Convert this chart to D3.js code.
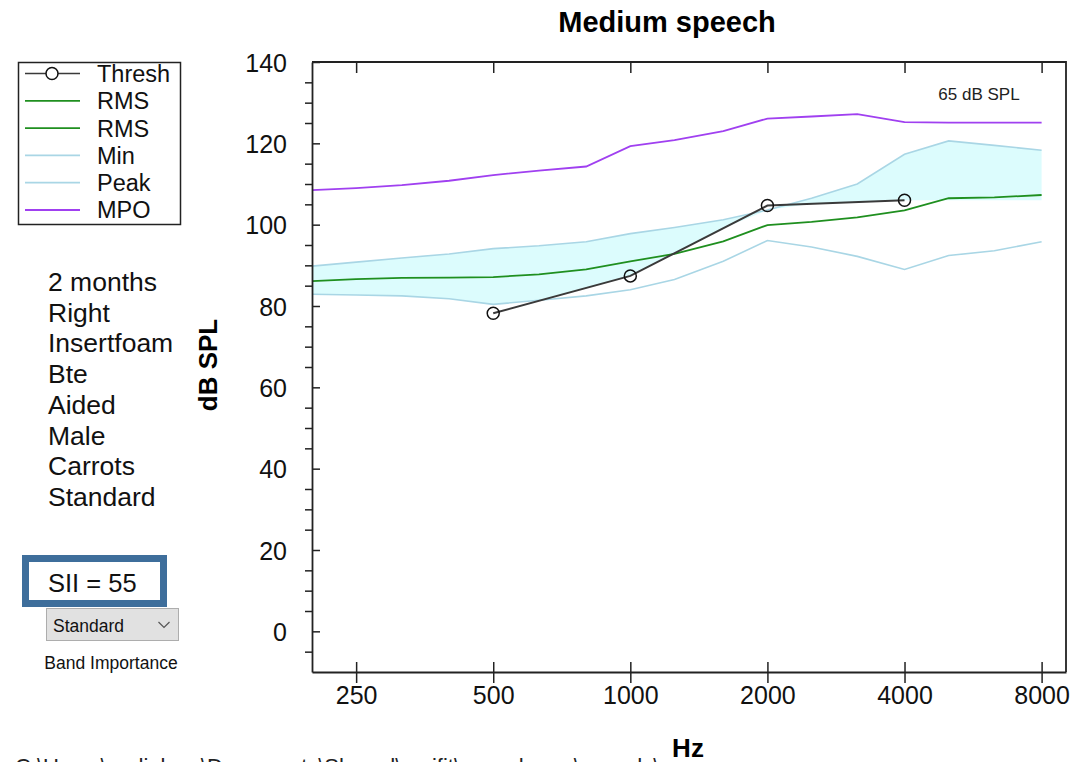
<!DOCTYPE html>
<html>
<head>
<meta charset="utf-8">
<script src="https://cdn.jsdelivr.net/npm/d3@7"></script>
<style>
  body { margin: 0; background: #fff; }
  svg { display: block; font-family: "Liberation Sans", Arial, sans-serif; }
</style>
</head>
<body>
<svg width="1076" height="762"></svg>
<script>
// speech spectrum, 1/3 octave bands (dB SPL)
const freqs = [200, 250, 315, 400, 500, 630, 800, 1000, 1250, 1600, 2000, 2500, 3150, 4000, 5000, 6300, 8000];
const mpo   = [108.5, 109.0, 109.7, 110.8, 112.2, 113.3, 114.3, 119.3, 120.8, 123.0, 126.1, 126.6, 127.2, 125.2, 125.1, 125.1, 125.1];
const peak  = [89.8, 90.8, 91.8, 92.8, 94.1, 94.8, 95.8, 97.8, 99.3, 101.2, 103.6, 106.5, 110.0, 117.3, 120.6, 119.5, 118.3];
const rms   = [86.1, 86.6, 86.9, 87.0, 87.1, 87.8, 89.0, 91.0, 92.8, 95.9, 99.9, 100.7, 101.8, 103.5, 106.5, 106.7, 107.3];
const minV  = [82.9, 82.7, 82.5, 81.8, 80.4, 81.4, 82.5, 84.0, 86.5, 91.0, 96.1, 94.5, 92.2, 89.0, 92.4, 93.6, 95.8];

// threshold (aided), dB SPL
const threshFreqs = [500, 1000, 2000, 4000];
const thresh = [78.2, 87.4, 104.7, 106.0];

const xTicks = [250, 500, 1000, 2000, 4000, 8000];
const yTicks = [0, 20, 40, 60, 80, 100, 120, 140];
const yMinor = [-5, 5, 10, 15, 25, 30, 35, 45, 50, 55, 65, 70, 75, 85, 90, 95, 105, 110, 115, 125, 130, 135];

const legendLabels = ["Thresh", "RMS", "RMS", "Min", "Peak", "MPO"];
const infoLines = ["2 months", "Right", "Insertfoam", "Bte", "Aided", "Male", "Carrots", "Standard"];
const siiValue = 55;
const bandImportance = "Standard";

const colors = {
  Thresh: "#3a3a3a", RMS: "#1f8f1f", Min: "#a9d6e5", Peak: "#a9d6e5", MPO: "#a040f0"
};

const svg = d3.select("svg");
const plotLeft = 312, plotRight = 1066, plotTop = 62, plotBottom = 672;

let xScale = d3.scaleLog().domain([200, 9050]).range([plotLeft, plotRight]);
let yScale = d3.scaleLinear().domain([-10, 140]).range([plotBottom, plotTop]);

// title
svg.append("text")
  .attr("x", 667).attr("y", 32)
  .attr("text-anchor", "middle")
  .style("font-size", "29px").style("font-weight", "bold")
  .text("Medium speech");

// threshold interpolated on log frequency, held flat outside measured range
function threshAt(f) {
  const n = threshFreqs.length;
  if (f <= threshFreqs[0]) return thresh[0];
  if (f >= threshFreqs[n - 1]) return thresh[n - 1];
  const i = d3.bisectRight(threshFreqs, f) - 1;
  const t = Math.log(f / threshFreqs[i]) / Math.log(threshFreqs[i + 1] / threshFreqs[i]);
  return thresh[i] + t * (thresh[i + 1] - thresh[i]);
}

const speech = freqs.map((f, i) => ({f: f, peak: peak[i], min: minV[i], rms: rms[i], mpo: mpo[i]}));

// audible part of speech: between peak and max(min, thresh)
const area = d3.area()
  .x(d => xScale(d.f))
  .y0(d => yScale(Math.min(d.peak, Math.max(d.min, threshAt(d.f)))))
  .y1(d => yScale(d.peak));

svg.append("path")
  .datum(speech)
  .attr("d", area)
  .attr("fill", "#dcfcfd");

function drawLine(key, color, width) {
  svg.append("path")
    .datum(speech)
    .attr("d", d3.line().x(d => xScale(d.f)).y(d => yScale(d[key])))
    .attr("fill", "none")
    .attr("stroke", color)
    .attr("stroke-width", width);
}
drawLine("min", colors.Min, 1.6);
drawLine("peak", colors.Peak, 1.6);
drawLine("rms", colors.RMS, 1.8);
drawLine("mpo", colors.MPO, 1.8);

// threshold line + markers
const threshData = threshFreqs.map((f, i) => ({f: f, v: thresh[i]}));
svg.append("path")
  .datum(threshData)
  .attr("d", d3.line().x(d => xScale(d.f)).y(d => yScale(d.v)))
  .attr("fill", "none")
  .attr("stroke", colors.Thresh)
  .attr("stroke-width", 2);
svg.selectAll("circle.thresh")
  .data(threshData)
  .join("circle")
  .attr("class", "thresh")
  .attr("cx", d => xScale(d.f))
  .attr("cy", d => yScale(d.v))
  .attr("r", 6)
  .attr("fill", "none")
  .attr("stroke", "#111")
  .attr("stroke-width", 1.5);

// frame (top + right)
svg.append("path")
  .attr("d", `M${plotLeft},${plotTop}H${plotRight}V${plotBottom}`)
  .attr("fill", "none")
  .attr("stroke", "#222")
  .attr("stroke-width", 1.8);

// bottom axis
let xAxis = d3.axisBottom(xScale).tickValues(xTicks).tickFormat(d3.format("d"))
  .tickSizeInner(11).tickSizeOuter(0);
let xAxisG = svg.append("g").attr("transform", `translate(0,${plotBottom})`).call(xAxis);
xAxisG.select(".domain").attr("stroke", "#222").attr("stroke-width", 1.8);
xAxisG.selectAll(".tick line").attr("y1", -10).attr("stroke", "#222").attr("stroke-width", 1.5);
xAxisG.selectAll(".tick text")
  .attr("y", 23).attr("dy", "0.36em")
  .style("font-size", "25px").style("fill", "#111");
xAxisG.attr("font-family", null).attr("font-size", null);

// top ticks (inward)
let topAxis = d3.axisBottom(xScale).tickValues(xTicks).tickFormat("").tickSizeInner(11).tickSizeOuter(0);
let topG = svg.append("g").attr("transform", `translate(0,${plotTop})`).call(topAxis);
topG.select(".domain").remove();
topG.selectAll(".tick line").attr("stroke", "#222").attr("stroke-width", 1.5);

// left axis
let yAxis = d3.axisLeft(yScale).tickValues(yTicks).tickSizeInner(10).tickSizeOuter(0);
let yAxisG = svg.append("g").attr("transform", `translate(${plotLeft},0)`).call(yAxis);
yAxisG.select(".domain").attr("stroke", "#222").attr("stroke-width", 1.8);
yAxisG.selectAll(".tick line").attr("x2", 8).attr("stroke", "#222").attr("stroke-width", 1.5);
yAxisG.selectAll(".tick text")
  .attr("x", -25).attr("dy", "0.36em")
  .style("font-size", "25px").style("fill", "#111");
yAxisG.attr("font-family", null).attr("font-size", null);

let yMinorAxis = d3.axisLeft(yScale).tickValues(yMinor).tickFormat("").tickSizeInner(7).tickSizeOuter(0);
let yMinorG = svg.append("g").attr("transform", `translate(${plotLeft},0)`).call(yMinorAxis);
yMinorG.select(".domain").remove();
yMinorG.selectAll(".tick line").attr("stroke", "#222").attr("stroke-width", 1.5);

// axis titles
svg.append("text")
  .attr("transform", "translate(217,365) rotate(-90)")
  .attr("text-anchor", "middle")
  .style("font-size", "26px").style("font-weight", "bold")
  .text("dB SPL");
svg.append("text")
  .attr("x", 688).attr("y", 757)
  .attr("text-anchor", "middle")
  .style("font-size", "26px").style("font-weight", "bold")
  .text("Hz");

svg.append("text")
  .attr("x", 979).attr("y", 100)
  .attr("text-anchor", "middle")
  .style("font-size", "17px").style("fill", "#222")
  .text("65 dB SPL");

// legend
let legend = svg.append("g").attr("class", "legend");
legend.append("rect")
  .attr("x", 18.5).attr("y", 62.5).attr("width", 162).attr("height", 162)
  .attr("fill", "#fff").attr("stroke", "#222").attr("stroke-width", 1.5);
legend.selectAll("g.item")
  .data(legendLabels)
  .join("g")
  .attr("class", "item")
  .attr("transform", (d, i) => `translate(0,${73.5 + i * 27.3})`)
  .each(function (d, i) {
    let g = d3.select(this);
    g.append("line")
      .attr("x1", 25).attr("x2", 80)
      .attr("stroke", colors[d])
      .attr("stroke-width", d === "Thresh" ? 1.6 : 1.8);
    if (d === "Thresh") {
      g.append("circle").attr("cx", 52).attr("r", 6)
        .attr("fill", "#fff").attr("stroke", "#111").attr("stroke-width", 1.5);
    }
    g.append("text")
      .attr("x", 97).attr("dy", "0.36em")
      .style("font-size", "23.5px").style("fill", "#111")
      .text(d);
  });

// info block
svg.selectAll("text.info")
  .data(infoLines)
  .join("text")
  .attr("class", "info")
  .attr("x", 48)
  .attr("y", (d, i) => 291 + i * 30.7)
  .style("font-size", "26.5px").style("fill", "#111")
  .text(d => d);

// SII box
svg.append("rect")
  .attr("x", 25.5).attr("y", 558.5).attr("width", 138).attr("height", 45)
  .attr("fill", "#fff").attr("stroke", "#3e6e9b").attr("stroke-width", 7);
svg.append("text")
  .attr("x", 48).attr("y", 592)
  .style("font-size", "25.5px").style("fill", "#111")
  .text("SII = " + siiValue);

// dropdown
svg.append("rect")
  .attr("x", 46.5).attr("y", 608.5).attr("width", 132).attr("height", 32)
  .attr("fill", "#e1e1e1").attr("stroke", "#adadad").attr("stroke-width", 1);
svg.append("text")
  .attr("x", 53).attr("y", 632)
  .style("font-size", "17.5px").style("fill", "#111")
  .text(bandImportance);
svg.append("path")
  .attr("d", "M158.5,622 L164,627.5 L169.5,622")
  .attr("fill", "none").attr("stroke", "#555").attr("stroke-width", 1.2);
svg.append("text")
  .attr("x", 111).attr("y", 669)
  .attr("text-anchor", "middle")
  .style("font-size", "17.5px").style("fill", "#111")
  .text("Band Importance");

// file path, cut off by the window edge
svg.append("text")
  .attr("x", 15).attr("y", 774)
  .style("font-size", "22px").style("fill", "#222")
  .text("C:\\Users\\audiology\\Documents\\Shared\\verifit\\speechmap\\records\\");
</script>
</body>
</html>
